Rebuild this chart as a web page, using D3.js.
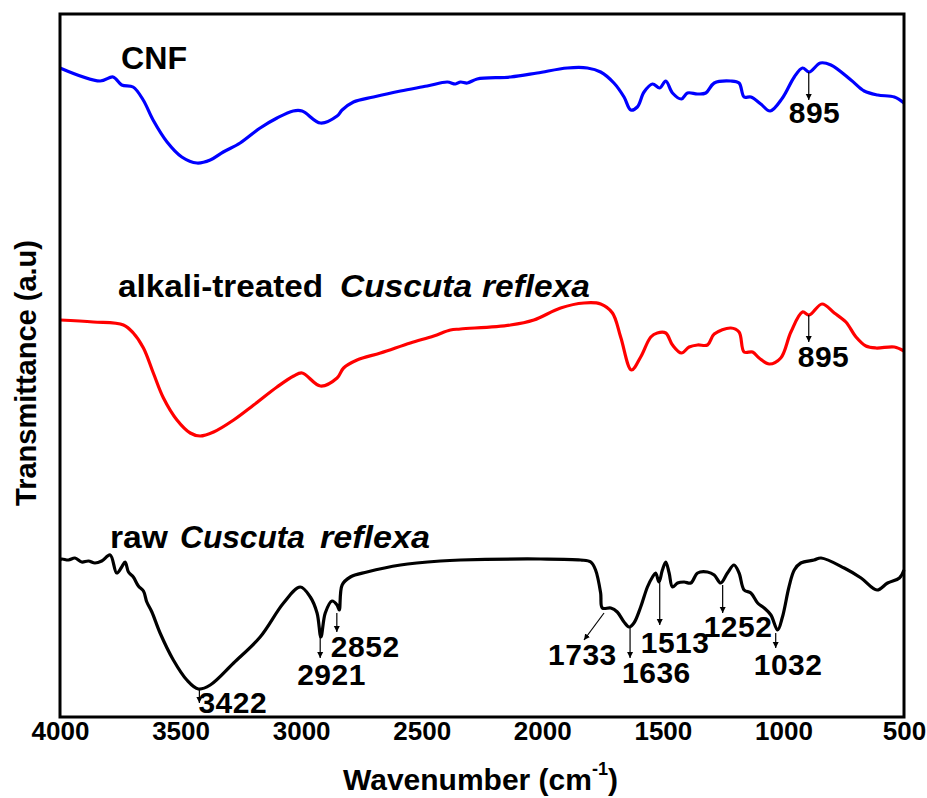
<!DOCTYPE html>
<html>
<head>
    <title>FTIR spectra</title>
    <script src="https://d3js.org/d3.v7.min.js"></script>
    <style>
        body { margin: 0; background: #fff; }
        svg { display: block; }
        svg text { font-family: "Liberation Sans", Arial, sans-serif; }
    </style>
</head>
<body>
    <svg width="927" height="798"></svg>

    <script>
        // Spectra: [wavenumber (cm-1), transmittance (a.u., stacked)]
        const cnf = [
            [4000, 649], [3834, 636], [3780, 640], [3744, 632], [3697, 630], [3655, 617], [3614, 597],
            [3556, 575], [3495, 560], [3432, 554], [3377, 557], [3323, 565], [3253, 574], [3170, 589],
            [3100, 599], [3033, 606], [2996, 606], [2920, 594], [2851, 601], [2830, 607], [2783, 615],
            [2700, 620], [2588, 626], [2477, 631], [2394, 635], [2360, 633], [2339, 635], [2311, 634],
            [2270, 638], [2132, 640], [2021, 644], [1896, 649], [1813, 649], [1758, 645], [1703, 634],
            [1661, 620], [1633, 607], [1606, 610], [1578, 625], [1543, 633], [1513, 629], [1488, 636],
            [1460, 624], [1423, 618], [1398, 624], [1356, 623], [1322, 624], [1287, 634], [1218, 636],
            [1184, 634], [1163, 620], [1135, 620], [1094, 613], [1055, 606], [1004, 619], [955, 640],
            [921, 649], [893, 645], [847, 654], [803, 652], [720, 637], [665, 626], [609, 622],
            [540, 620], [500, 614]
        ];
        const alkali = [
            [4000, 397], [3862, 395], [3737, 392], [3696, 384], [3654, 369], [3613, 344], [3571, 319],
            [3515, 297], [3460, 284], [3419, 281], [3363, 285], [3280, 297], [3197, 312], [3100, 330],
            [3031, 341], [2996, 344], [2920, 331], [2851, 339], [2824, 349], [2768, 357], [2671, 364],
            [2547, 374], [2450, 381], [2381, 387], [2339, 388], [2132, 392], [2035, 397], [1924, 409],
            [1827, 414], [1758, 413], [1709, 404], [1675, 380], [1630, 347], [1592, 360], [1550, 380],
            [1523, 384], [1488, 384], [1460, 372], [1423, 364], [1391, 370], [1356, 372], [1315, 372],
            [1287, 383], [1218, 389], [1184, 385], [1163, 365], [1128, 365], [1101, 359], [1059, 353],
            [1011, 359], [969, 385], [921, 405], [893, 402], [840, 413], [789, 404], [741, 395],
            [699, 380], [658, 371], [616, 369], [540, 370], [500, 366]
        ];
        const raw = [
            [4000, 157], [3993, 158], [3965, 157], [3938, 159], [3910, 155], [3882, 156], [3855, 154],
            [3827, 156], [3792, 162], [3765, 144], [3744, 150], [3730, 155], [3716, 145], [3696, 140],
            [3675, 131], [3654, 126], [3640, 115], [3619, 105], [3585, 84], [3530, 57], [3474, 37],
            [3426, 28], [3377, 32], [3280, 54], [3170, 80], [3073, 114], [3004, 130], [2962, 120],
            [2934, 104], [2918, 80], [2900, 104], [2872, 116], [2851, 112], [2842, 107], [2830, 132],
            [2796, 140], [2727, 145], [2588, 152], [2422, 156], [2339, 157], [2007, 158], [1841, 157],
            [1799, 155], [1779, 147], [1758, 124], [1751, 109], [1716, 109], [1689, 105], [1661, 95],
            [1640, 90], [1620, 94], [1592, 110], [1564, 130], [1543, 140], [1530, 144], [1516, 135],
            [1502, 147], [1488, 155], [1474, 144], [1460, 130], [1439, 134], [1412, 135], [1384, 134],
            [1356, 144], [1315, 145], [1287, 142], [1260, 134], [1232, 144], [1205, 152], [1184, 144],
            [1163, 127], [1135, 124], [1107, 114], [1080, 109], [1052, 102], [1024, 87], [1004, 100],
            [977, 130], [955, 147], [928, 154], [873, 157], [844, 159], [748, 149], [678, 139],
            [612, 127], [568, 134], [519, 139], [500, 147]
        ];

        const seriesNames = ["CNF", "alkali-treated", "raw"];
        const seriesColors = ["#0000ff", "#ff0000", "#000000"];
        const xTicks = [4000, 3500, 3000, 2500, 2000, 1500, 1000, 500];

        // Peak annotations: label, arrow start / end in (wavenumber, a.u.)
        const peakLabels = ["895", "895", "3422", "2921", "2852", "1733", "1636", "1513", "1252", "1032"];
        const arrowFrom = [[895, 645], [895, 402], [3422, 29], [2921, 80], [2852, 104], [1744, 104], [1636, 89], [1513, 134], [1252, 132], [1032, 84]];
        const arrowTo = [[895, 617], [895, 375], [3422, 14], [2921, 59], [2852, 85], [1827, 77], [1636, 59], [1513, 92], [1252, 104], [1032, 69]];

        const svg = d3.select("svg");
        const margin = { top: 14, right: 23, bottom: 81, left: 60 };
        const width = +svg.attr("width") - margin.left - margin.right;
        const height = +svg.attr("height") - margin.top - margin.bottom;
        const g = svg.append("g").attr("transform", `translate(${margin.left},${margin.top})`);

        const x = d3.scaleLinear().domain([4000, 500]).range([0, width]);
        const y = d3.scaleLinear().domain([0, 703]).range([height, 0]);

        // arrowhead
        svg.append("defs").append("marker")
            .attr("id", "head")
            .attr("viewBox", "0 0 10 10")
            .attr("refX", 10).attr("refY", 5)
            .attr("markerWidth", 6).attr("markerHeight", 8)
            .attr("markerUnits", "userSpaceOnUse")
            .attr("orient", "auto")
            .append("path").attr("d", "M0,0L10,5L0,10Z").attr("fill", "#000");

        // spectra
        const line = d3.line()
            .x(d => x(d[0]))
            .y(d => y(d[1]))
            .curve(d3.curveCatmullRom.alpha(0.5));

        [cnf, alkali, raw].forEach((s, i) => {
            g.append("path")
                .datum(s)
                .attr("fill", "none")
                .attr("stroke", seriesColors[i])
                .attr("stroke-width", 3.2)
                .attr("stroke-linejoin", "round")
                .attr("d", line);
        });

        // frame
        g.append("rect")
            .attr("width", width).attr("height", height)
            .attr("fill", "none").attr("stroke", "#000").attr("stroke-width", 3);

        // x axis (labels only)
        const xAxis = g.append("g")
            .attr("transform", `translate(0,${height})`)
            .call(d3.axisBottom(x).tickValues(xTicks).tickSize(0).tickPadding(5).tickFormat(d3.format("d")));
        xAxis.select(".domain").remove();
        xAxis.selectAll("text")
            .attr("font-size", 26).attr("font-weight", "bold").attr("fill", "#000")
            .attr("dy", "0.71em");

        // arrows and peak labels
        const labelDx = [-20, -11, -1, -23, -6, -56, -8, -19, -19, -22];
        const labelDy = [23, 25, 10, 27, 25, 25, 25, 28, 24, 27];
        peakLabels.forEach((lab, i) => {
            const x0 = x(arrowFrom[i][0]), y0 = y(arrowFrom[i][1]);
            const x1 = x(arrowTo[i][0]), y1 = y(arrowTo[i][1]);
            g.append("line")
                .attr("x1", x0).attr("y1", y0).attr("x2", x1).attr("y2", y1)
                .attr("stroke", "#000").attr("stroke-width", 1.2)
                .attr("marker-end", "url(#head)");
            g.append("text")
                .attr("x", x(arrowFrom[i][0]) + labelDx[i])
                .attr("y", y1 + labelDy[i])
                .attr("font-size", 30).attr("font-weight", "bold")
                .attr("letter-spacing", 0.5)
                .text(lab);
        });

        // series labels
        function word(px, py, str, len, italic) {
            svg.append("text")
                .attr("x", px).attr("y", py)
                .attr("font-size", 31).attr("font-weight", "bold")
                .attr("font-style", italic ? "italic" : "normal")
                .attr("textLength", len).attr("lengthAdjust", "spacingAndGlyphs")
                .text(str);
        }
        word(121, 69, seriesNames[0], 66, false);
        word(118, 297, seriesNames[1], 205, false);
        word(340, 297, "Cuscuta", 132, true);
        word(482, 297, "reflexa", 108, true);
        word(110, 548, seriesNames[2], 58, false);
        word(180, 548, "Cuscuta", 125, true);
        word(320, 548, "reflexa", 110, true);

        // axis titles
        const xt = svg.append("text")
            .attr("x", 343).attr("y", 790)
            .attr("font-size", 30).attr("font-weight", "bold");
        xt.append("tspan").text("Wavenumber (cm");
        xt.append("tspan").attr("font-size", 18).attr("dy", -15).text("-1");
        xt.append("tspan").attr("dy", 15).text(")");

        svg.append("text")
            .attr("transform", "translate(36,373) rotate(-90)")
            .attr("text-anchor", "middle")
            .attr("font-size", 29).attr("font-weight", "bold")
            .text("Transmittance (a.u)");
    </script>
</body>
</html>
